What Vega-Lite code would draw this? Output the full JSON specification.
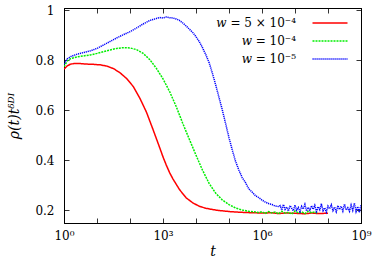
{
  "$schema": "https://vega.github.io/schema/vega-lite/v6.json",
  "width": 297,
  "height": 215,
  "autosize": {"type": "none"},
  "padding": {"left": 64, "top": 8, "right": 13, "bottom": 40},
  "background": "white",
  "config": {
    "font": "DejaVu Serif",
    "view": {"stroke": "black", "strokeWidth": 1},
    "axis": {"grid": false, "domainColor": "black", "domainWidth": 1, "tickColor": "black", "tickWidth": 0.8, "labelColor": "black", "titleColor": "black", "labelFontSize": 12, "titleFontSize": 14, "labelFont": "DejaVu Serif", "titleFont": "DejaVu Serif", "titleFontWeight": "normal"},
    "legend": {"labelFont": "DejaVu Serif", "labelFontSize": 12, "labelColor": "black"}
  },
  "data": {"values": [
    {"w": "𝑤 = 5 × 10⁻⁴", "t": 1, "rho": 0.765},
    {"w": "𝑤 = 5 × 10⁻⁴", "t": 1.259, "rho": 0.778},
    {"w": "𝑤 = 5 × 10⁻⁴", "t": 1.585, "rho": 0.785},
    {"w": "𝑤 = 5 × 10⁻⁴", "t": 1.995, "rho": 0.787},
    {"w": "𝑤 = 5 × 10⁻⁴", "t": 3.162, "rho": 0.787},
    {"w": "𝑤 = 5 × 10⁻⁴", "t": 5.012, "rho": 0.785},
    {"w": "𝑤 = 5 × 10⁻⁴", "t": 7.943, "rho": 0.784},
    {"w": "𝑤 = 5 × 10⁻⁴", "t": 12.59, "rho": 0.782},
    {"w": "𝑤 = 5 × 10⁻⁴", "t": 19.95, "rho": 0.777},
    {"w": "𝑤 = 5 × 10⁻⁴", "t": 31.62, "rho": 0.767},
    {"w": "𝑤 = 5 × 10⁻⁴", "t": 50.12, "rho": 0.750},
    {"w": "𝑤 = 5 × 10⁻⁴", "t": 79.43, "rho": 0.727},
    {"w": "𝑤 = 5 × 10⁻⁴", "t": 125.9, "rho": 0.695},
    {"w": "𝑤 = 5 × 10⁻⁴", "t": 199.5, "rho": 0.648},
    {"w": "𝑤 = 5 × 10⁻⁴", "t": 316.2, "rho": 0.592},
    {"w": "𝑤 = 5 × 10⁻⁴", "t": 501.2, "rho": 0.522},
    {"w": "𝑤 = 5 × 10⁻⁴", "t": 794.3, "rho": 0.450},
    {"w": "𝑤 = 5 × 10⁻⁴", "t": 1000, "rho": 0.413},
    {"w": "𝑤 = 5 × 10⁻⁴", "t": 1259, "rho": 0.380},
    {"w": "𝑤 = 5 × 10⁻⁴", "t": 1585, "rho": 0.350},
    {"w": "𝑤 = 5 × 10⁻⁴", "t": 1995, "rho": 0.325},
    {"w": "𝑤 = 5 × 10⁻⁴", "t": 3162, "rho": 0.282},
    {"w": "𝑤 = 5 × 10⁻⁴", "t": 5012, "rho": 0.249},
    {"w": "𝑤 = 5 × 10⁻⁴", "t": 7943, "rho": 0.229},
    {"w": "𝑤 = 5 × 10⁻⁴", "t": 12590, "rho": 0.215},
    {"w": "𝑤 = 5 × 10⁻⁴", "t": 19950, "rho": 0.207},
    {"w": "𝑤 = 5 × 10⁻⁴", "t": 31620, "rho": 0.202},
    {"w": "𝑤 = 5 × 10⁻⁴", "t": 50120, "rho": 0.198},
    {"w": "𝑤 = 5 × 10⁻⁴", "t": 100000, "rho": 0.194},
    {"w": "𝑤 = 5 × 10⁻⁴", "t": 158500, "rho": 0.192},
    {"w": "𝑤 = 5 × 10⁻⁴", "t": 316200, "rho": 0.190},
    {"w": "𝑤 = 5 × 10⁻⁴", "t": 1000000, "rho": 0.188},
    {"w": "𝑤 = 5 × 10⁻⁴", "t": 2000000, "rho": 0.189},
    {"w": "𝑤 = 5 × 10⁻⁴", "t": 3162000, "rho": 0.186},
    {"w": "𝑤 = 5 × 10⁻⁴", "t": 5000000, "rho": 0.188},
    {"w": "𝑤 = 5 × 10⁻⁴", "t": 10000000, "rho": 0.187},
    {"w": "𝑤 = 5 × 10⁻⁴", "t": 20000000, "rho": 0.185},
    {"w": "𝑤 = 5 × 10⁻⁴", "t": 31620000, "rho": 0.188},
    {"w": "𝑤 = 5 × 10⁻⁴", "t": 50000000, "rho": 0.186},
    {"w": "𝑤 = 5 × 10⁻⁴", "t": 100000000, "rho": 0.187},

    {"w": "𝑤 = 10⁻⁴", "t": 1, "rho": 0.775},
    {"w": "𝑤 = 10⁻⁴", "t": 1.259, "rho": 0.798},
    {"w": "𝑤 = 10⁻⁴", "t": 1.585, "rho": 0.807},
    {"w": "𝑤 = 10⁻⁴", "t": 2.512, "rho": 0.814},
    {"w": "𝑤 = 10⁻⁴", "t": 3.981, "rho": 0.818},
    {"w": "𝑤 = 10⁻⁴", "t": 6.310, "rho": 0.822},
    {"w": "𝑤 = 10⁻⁴", "t": 10, "rho": 0.828},
    {"w": "𝑤 = 10⁻⁴", "t": 15.85, "rho": 0.835},
    {"w": "𝑤 = 10⁻⁴", "t": 25.12, "rho": 0.842},
    {"w": "𝑤 = 10⁻⁴", "t": 39.81, "rho": 0.848},
    {"w": "𝑤 = 10⁻⁴", "t": 63.10, "rho": 0.851},
    {"w": "𝑤 = 10⁻⁴", "t": 100, "rho": 0.850},
    {"w": "𝑤 = 10⁻⁴", "t": 158.5, "rho": 0.843},
    {"w": "𝑤 = 10⁻⁴", "t": 251.2, "rho": 0.828},
    {"w": "𝑤 = 10⁻⁴", "t": 398.1, "rho": 0.803},
    {"w": "𝑤 = 10⁻⁴", "t": 631.0, "rho": 0.768},
    {"w": "𝑤 = 10⁻⁴", "t": 1000, "rho": 0.726},
    {"w": "𝑤 = 10⁻⁴", "t": 1585, "rho": 0.675},
    {"w": "𝑤 = 10⁻⁴", "t": 2512, "rho": 0.615},
    {"w": "𝑤 = 10⁻⁴", "t": 3981, "rho": 0.547},
    {"w": "𝑤 = 10⁻⁴", "t": 6310, "rho": 0.483},
    {"w": "𝑤 = 10⁻⁴", "t": 10000, "rho": 0.420},
    {"w": "𝑤 = 10⁻⁴", "t": 15850, "rho": 0.359},
    {"w": "𝑤 = 10⁻⁴", "t": 25120, "rho": 0.306},
    {"w": "𝑤 = 10⁻⁴", "t": 39810, "rho": 0.267},
    {"w": "𝑤 = 10⁻⁴", "t": 63100, "rho": 0.240},
    {"w": "𝑤 = 10⁻⁴", "t": 100000, "rho": 0.222},
    {"w": "𝑤 = 10⁻⁴", "t": 158500, "rho": 0.208},
    {"w": "𝑤 = 10⁻⁴", "t": 251200, "rho": 0.200},
    {"w": "𝑤 = 10⁻⁴", "t": 398100, "rho": 0.195},
    {"w": "𝑤 = 10⁻⁴", "t": 631000, "rho": 0.192},
    {"w": "𝑤 = 10⁻⁴", "t": 794300, "rho": 0.190},
    {"w": "𝑤 = 10⁻⁴", "t": 1000000, "rho": 0.193},
    {"w": "𝑤 = 10⁻⁴", "t": 1259000, "rho": 0.186},
    {"w": "𝑤 = 10⁻⁴", "t": 1585000, "rho": 0.194},
    {"w": "𝑤 = 10⁻⁴", "t": 1995000, "rho": 0.188},
    {"w": "𝑤 = 10⁻⁴", "t": 2512000, "rho": 0.192},
    {"w": "𝑤 = 10⁻⁴", "t": 3162000, "rho": 0.185},
    {"w": "𝑤 = 10⁻⁴", "t": 3981000, "rho": 0.195},
    {"w": "𝑤 = 10⁻⁴", "t": 5012000, "rho": 0.187},
    {"w": "𝑤 = 10⁻⁴", "t": 6310000, "rho": 0.191},
    {"w": "𝑤 = 10⁻⁴", "t": 7943000, "rho": 0.184},
    {"w": "𝑤 = 10⁻⁴", "t": 10000000, "rho": 0.196},
    {"w": "𝑤 = 10⁻⁴", "t": 12590000, "rho": 0.188},
    {"w": "𝑤 = 10⁻⁴", "t": 15850000, "rho": 0.193},
    {"w": "𝑤 = 10⁻⁴", "t": 19950000, "rho": 0.186},
    {"w": "𝑤 = 10⁻⁴", "t": 25120000, "rho": 0.195},
    {"w": "𝑤 = 10⁻⁴", "t": 31620000, "rho": 0.189},
    {"w": "𝑤 = 10⁻⁴", "t": 39810000, "rho": 0.192},
    {"w": "𝑤 = 10⁻⁴", "t": 50120000, "rho": 0.187},

    {"w": "𝑤 = 10⁻⁵", "t": 1, "rho": 0.785},
    {"w": "𝑤 = 10⁻⁵", "t": 1.259, "rho": 0.806},
    {"w": "𝑤 = 10⁻⁵", "t": 1.585, "rho": 0.815},
    {"w": "𝑤 = 10⁻⁵", "t": 2.512, "rho": 0.825},
    {"w": "𝑤 = 10⁻⁵", "t": 3.981, "rho": 0.832},
    {"w": "𝑤 = 10⁻⁵", "t": 6.310, "rho": 0.838},
    {"w": "𝑤 = 10⁻⁵", "t": 10, "rho": 0.848},
    {"w": "𝑤 = 10⁻⁵", "t": 15.85, "rho": 0.862},
    {"w": "𝑤 = 10⁻⁵", "t": 25.12, "rho": 0.876},
    {"w": "𝑤 = 10⁻⁵", "t": 39.81, "rho": 0.890},
    {"w": "𝑤 = 10⁻⁵", "t": 63.10, "rho": 0.903},
    {"w": "𝑤 = 10⁻⁵", "t": 100, "rho": 0.915},
    {"w": "𝑤 = 10⁻⁵", "t": 158.5, "rho": 0.930},
    {"w": "𝑤 = 10⁻⁵", "t": 251.2, "rho": 0.946},
    {"w": "𝑤 = 10⁻⁵", "t": 398.1, "rho": 0.960},
    {"w": "𝑤 = 10⁻⁵", "t": 631.0, "rho": 0.968},
    {"w": "𝑤 = 10⁻⁵", "t": 794.3, "rho": 0.972},
    {"w": "𝑤 = 10⁻⁵", "t": 1000, "rho": 0.970},
    {"w": "𝑤 = 10⁻⁵", "t": 1259, "rho": 0.974},
    {"w": "𝑤 = 10⁻⁵", "t": 1585, "rho": 0.971},
    {"w": "𝑤 = 10⁻⁵", "t": 1995, "rho": 0.970},
    {"w": "𝑤 = 10⁻⁵", "t": 2512, "rho": 0.966},
    {"w": "𝑤 = 10⁻⁵", "t": 3162, "rho": 0.960},
    {"w": "𝑤 = 10⁻⁵", "t": 3981, "rho": 0.950},
    {"w": "𝑤 = 10⁻⁵", "t": 5012, "rho": 0.938},
    {"w": "𝑤 = 10⁻⁵", "t": 6310, "rho": 0.925},
    {"w": "𝑤 = 10⁻⁵", "t": 7943, "rho": 0.912},
    {"w": "𝑤 = 10⁻⁵", "t": 10000, "rho": 0.895},
    {"w": "𝑤 = 10⁻⁵", "t": 12590, "rho": 0.875},
    {"w": "𝑤 = 10⁻⁵", "t": 15850, "rho": 0.850},
    {"w": "𝑤 = 10⁻⁵", "t": 19950, "rho": 0.822},
    {"w": "𝑤 = 10⁻⁵", "t": 25120, "rho": 0.790},
    {"w": "𝑤 = 10⁻⁵", "t": 31620, "rho": 0.747},
    {"w": "𝑤 = 10⁻⁵", "t": 39810, "rho": 0.700},
    {"w": "𝑤 = 10⁻⁵", "t": 50120, "rho": 0.650},
    {"w": "𝑤 = 10⁻⁵", "t": 63100, "rho": 0.600},
    {"w": "𝑤 = 10⁻⁵", "t": 79430, "rho": 0.545},
    {"w": "𝑤 = 10⁻⁵", "t": 100000, "rho": 0.490},
    {"w": "𝑤 = 10⁻⁵", "t": 125900, "rho": 0.440},
    {"w": "𝑤 = 10⁻⁵", "t": 158500, "rho": 0.395},
    {"w": "𝑤 = 10⁻⁵", "t": 199500, "rho": 0.360},
    {"w": "𝑤 = 10⁻⁵", "t": 251200, "rho": 0.330},
    {"w": "𝑤 = 10⁻⁵", "t": 316200, "rho": 0.310},
    {"w": "𝑤 = 10⁻⁵", "t": 398100, "rho": 0.285},
    {"w": "𝑤 = 10⁻⁵", "t": 501200, "rho": 0.272},
    {"w": "𝑤 = 10⁻⁵", "t": 631000, "rho": 0.258},
    {"w": "𝑤 = 10⁻⁵", "t": 794300, "rho": 0.250},
    {"w": "𝑤 = 10⁻⁵", "t": 1000000, "rho": 0.240},
    {"w": "𝑤 = 10⁻⁵", "t": 1259000, "rho": 0.232},
    {"w": "𝑤 = 10⁻⁵", "t": 1585000, "rho": 0.226},
    {"w": "𝑤 = 10⁻⁵", "t": 1995000, "rho": 0.222},
    {"w": "𝑤 = 10⁻⁵", "t": 2512000, "rho": 0.216},
    {"w": "𝑤 = 10⁻⁵", "t": 3162000, "rho": 0.214},
    {"w": "𝑤 = 10⁻⁵", "t": 3548000, "rho": 0.218},
    {"w": "𝑤 = 10⁻⁵", "t": 3981000, "rho": 0.200},
    {"w": "𝑤 = 10⁻⁵", "t": 4467000, "rho": 0.222},
    {"w": "𝑤 = 10⁻⁵", "t": 5012000, "rho": 0.203},
    {"w": "𝑤 = 10⁻⁵", "t": 5623000, "rho": 0.212},
    {"w": "𝑤 = 10⁻⁵", "t": 6310000, "rho": 0.196},
    {"w": "𝑤 = 10⁻⁵", "t": 7079000, "rho": 0.218},
    {"w": "𝑤 = 10⁻⁵", "t": 7943000, "rho": 0.207},
    {"w": "𝑤 = 10⁻⁵", "t": 8913000, "rho": 0.197},
    {"w": "𝑤 = 10⁻⁵", "t": 10000000, "rho": 0.220},
    {"w": "𝑤 = 10⁻⁵", "t": 11220000, "rho": 0.199},
    {"w": "𝑤 = 10⁻⁵", "t": 12590000, "rho": 0.210},
    {"w": "𝑤 = 10⁻⁵", "t": 14130000, "rho": 0.193},
    {"w": "𝑤 = 10⁻⁵", "t": 15850000, "rho": 0.215},
    {"w": "𝑤 = 10⁻⁵", "t": 17780000, "rho": 0.204},
    {"w": "𝑤 = 10⁻⁵", "t": 19950000, "rho": 0.223},
    {"w": "𝑤 = 10⁻⁵", "t": 22390000, "rho": 0.196},
    {"w": "𝑤 = 10⁻⁵", "t": 25120000, "rho": 0.211},
    {"w": "𝑤 = 10⁻⁵", "t": 28180000, "rho": 0.199},
    {"w": "𝑤 = 10⁻⁵", "t": 31620000, "rho": 0.217},
    {"w": "𝑤 = 10⁻⁵", "t": 35480000, "rho": 0.203},
    {"w": "𝑤 = 10⁻⁵", "t": 39810000, "rho": 0.219},
    {"w": "𝑤 = 10⁻⁵", "t": 44670000, "rho": 0.194},
    {"w": "𝑤 = 10⁻⁵", "t": 50120000, "rho": 0.213},
    {"w": "𝑤 = 10⁻⁵", "t": 56230000, "rho": 0.201},
    {"w": "𝑤 = 10⁻⁵", "t": 63100000, "rho": 0.225},
    {"w": "𝑤 = 10⁻⁵", "t": 70790000, "rho": 0.197},
    {"w": "𝑤 = 10⁻⁵", "t": 79430000, "rho": 0.209},
    {"w": "𝑤 = 10⁻⁵", "t": 89130000, "rho": 0.192},
    {"w": "𝑤 = 10⁻⁵", "t": 100000000, "rho": 0.216},
    {"w": "𝑤 = 10⁻⁵", "t": 112200000, "rho": 0.205},
    {"w": "𝑤 = 10⁻⁵", "t": 125900000, "rho": 0.221},
    {"w": "𝑤 = 10⁻⁵", "t": 141300000, "rho": 0.198},
    {"w": "𝑤 = 10⁻⁵", "t": 158500000, "rho": 0.212},
    {"w": "𝑤 = 10⁻⁵", "t": 177800000, "rho": 0.193},
    {"w": "𝑤 = 10⁻⁵", "t": 199500000, "rho": 0.218},
    {"w": "𝑤 = 10⁻⁵", "t": 223900000, "rho": 0.202},
    {"w": "𝑤 = 10⁻⁵", "t": 251200000, "rho": 0.215},
    {"w": "𝑤 = 10⁻⁵", "t": 281800000, "rho": 0.196},
    {"w": "𝑤 = 10⁻⁵", "t": 316200000, "rho": 0.224},
    {"w": "𝑤 = 10⁻⁵", "t": 354800000, "rho": 0.200},
    {"w": "𝑤 = 10⁻⁵", "t": 398100000, "rho": 0.209},
    {"w": "𝑤 = 10⁻⁵", "t": 446700000, "rho": 0.195},
    {"w": "𝑤 = 10⁻⁵", "t": 501200000, "rho": 0.220},
    {"w": "𝑤 = 10⁻⁵", "t": 562300000, "rho": 0.199},
    {"w": "𝑤 = 10⁻⁵", "t": 631000000, "rho": 0.228},
    {"w": "𝑤 = 10⁻⁵", "t": 707900000, "rho": 0.194},
    {"w": "𝑤 = 10⁻⁵", "t": 794300000, "rho": 0.214},
    {"w": "𝑤 = 10⁻⁵", "t": 891300000, "rho": 0.190},
    {"w": "𝑤 = 10⁻⁵", "t": 1000000000, "rho": 0.222}
  ]},
  "layer": [
    {
      "mark": {"type": "line", "strokeWidth": 1.5, "clip": true},
      "encoding": {
        "x": {"field": "t", "type": "quantitative",
          "scale": {"type": "log", "domain": [1, 1000000000], "nice": false},
          "axis": {"values": [1, 10, 100, 1000, 10000, 100000, 1000000, 10000000, 100000000, 1000000000],
            "labelExpr": "datum.value == 1 ? '10⁰' : datum.value == 1000 ? '10³' : datum.value == 1000000 ? '10⁶' : datum.value == 1000000000 ? '10⁹' : ''",
            "tickSize": -5, "labelPadding": 12, "labelFlush": false, "labelOverlap": false,
            "title": "t", "titleFontStyle": "italic", "titlePadding": 3}},
        "y": {"field": "rho", "type": "quantitative",
          "scale": {"domain": [0.148, 1.01], "nice": false, "zero": false},
          "axis": {"values": [0.2, 0.4, 0.6, 0.8, 1.0],
            "labelExpr": "datum.value == 1 ? '1' : format(datum.value, '.1f')",
            "tickSize": -5, "labelPadding": 15, "labelFlush": false,
            "title": "ρ(t)tᵟᴰᴵ", "titleFontStyle": "italic", "titlePadding": 13}},
        "color": {"field": "w", "type": "nominal",
          "scale": {"domain": ["𝑤 = 5 × 10⁻⁴", "𝑤 = 10⁻⁴", "𝑤 = 10⁻⁵"], "range": ["#ff0000", "#00ee00", "#0000ff"]},
          "legend": {"orient": "none", "legendX": 260, "legendY": 9, "title": null, "symbolType": "M-3.5,0H3.5", "symbolSize": 100, "symbolStrokeWidth": 1.5, "labelAlign": "right", "labelOffset": -40, "padding": 0, "rowPadding": 6}},
        "strokeDash": {"field": "w", "type": "nominal",
          "scale": {"domain": ["𝑤 = 5 × 10⁻⁴", "𝑤 = 10⁻⁴", "𝑤 = 10⁻⁵"], "range": [[1, 0], [2, 1], [1.2, 0.8]]},
          "legend": {"orient": "none", "legendX": 260, "legendY": 9, "title": null, "symbolType": "M-3.5,0H3.5", "symbolSize": 100, "symbolStrokeWidth": 1.5, "labelAlign": "right", "labelOffset": -40, "padding": 0, "rowPadding": 6}}
      }
    },
    {
      "mark": {"type": "point", "opacity": 0},
      "encoding": {
        "x": {"field": "t", "type": "quantitative",
          "scale": {"type": "log", "domain": [1, 1000000000], "nice": false},
          "axis": {"orient": "top", "values": [1, 10, 100, 1000, 10000, 100000, 1000000, 10000000, 100000000, 1000000000], "labels": false, "tickSize": -5, "title": null}},
        "y": {"field": "rho", "type": "quantitative",
          "scale": {"domain": [0.148, 1.01], "nice": false, "zero": false},
          "axis": {"orient": "right", "values": [0.2, 0.4, 0.6, 0.8, 1.0], "labels": false, "tickSize": -5, "title": null}}
      }
    }
  ],
  "resolve": {"axis": {"x": "independent", "y": "independent"}}
}
